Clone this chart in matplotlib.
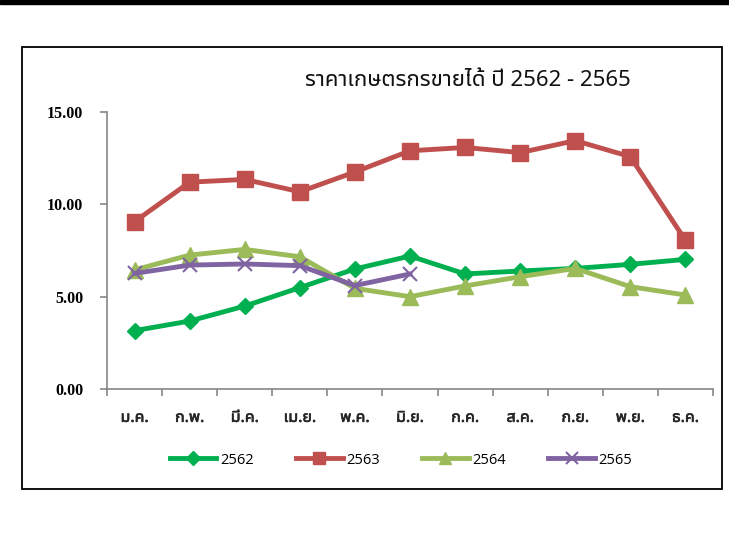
import matplotlib
matplotlib.use('Agg')
import matplotlib.pyplot as plt
import matplotlib.patheffects as pe
from matplotlib.patches import Rectangle
from matplotlib.ticker import FormatStrFormatter, FixedLocator
import numpy as np

months = ['ม.ค.', 'ก.พ.', 'มี.ค.', 'เม.ย.', 'พ.ค.', 'มิ.ย.',
          'ก.ค.', 'ส.ค.', 'ก.ย.', 'พ.ย.', 'ธ.ค.']
p2562 = [3.16, 3.68, 4.49, 5.49, 6.50, 7.20, 6.23, 6.39, 6.53, 6.75, 7.02]
p2563 = [9.06, 11.20, 11.35, 10.68, 11.75, 12.90, 13.08, 12.80, 13.45, 12.58, 8.05]
p2564 = [6.45, 7.25, 7.56, 7.16, 5.45, 5.00, 5.58, 6.08, 6.53, 5.54, 5.09]
p2565 = [6.26, 6.71, 6.77, 6.68, 5.60, 6.23]

title = 'ราคาเกษตรกรขายได้ ปี 2562 - 2565'
thai_font = ['Noto Sans Thai UI', 'Noto Sans']

W, H = 729, 540
fig = plt.figure(figsize=(W / 100, H / 100), dpi=100)

# outer frame and black strip at the top
fig.patches.append(Rectangle((22 / W, 1 - 489 / H), 700 / W, 442 / H,
                             transform=fig.transFigure, fill=False,
                             edgecolor='black', linewidth=1.3))
fig.patches.append(Rectangle((0, 1 - 4 / H), 1, 4 / H,
                             transform=fig.transFigure, color='black'))

ax = fig.add_axes([107 / W, 1 - 389 / H, 606 / W, 277 / H])
x = np.arange(len(months))

ax.plot(x, p2562, color='#00B050', lw=3.5, marker='D', ms=8.5, label='2562')
ax.plot(x, p2563, color='#C0504D', lw=3.5, marker='s', ms=11, label='2563')
ax.plot(x, p2564, color='#9BBB59', lw=3.5, marker='^', ms=11, label='2564')
ax.plot(x[:len(p2565)], p2565, color='#8064A2', lw=3.5, marker='x', ms=10,
        mew=1.5, label='2565')

ax.set_xlim(-0.5, len(months) - 0.5)
ax.set_ylim(0, 15)
ax.set_yticks([0, 5, 10, 15])
ax.yaxis.set_major_formatter(FormatStrFormatter('%.2f'))
ax.set_xticks(x)
ax.set_xticklabels(months, family=thai_font, fontsize=11.5, color='#262626')
for lab in ax.get_xticklabels():
    lab.set_path_effects([pe.withStroke(linewidth=0.45, foreground='#262626')])
ax.xaxis.set_minor_locator(FixedLocator(np.arange(-0.5, len(months), 1)))
ax.tick_params(axis='x', which='major', length=0, pad=15)
ax.tick_params(axis='x', which='minor', length=5, width=1.2, color='#868686')
ax.tick_params(axis='y', length=5, width=1.2, color='#868686', pad=12)
for lab in ax.get_yticklabels():
    lab.set_family('Liberation Serif')
    lab.set_fontweight('bold')
    lab.set_fontsize(11.5)

for side in ['top', 'right']:
    ax.spines[side].set_visible(False)
for side in ['left', 'bottom']:
    ax.spines[side].set_color('#868686')
    ax.spines[side].set_linewidth(1.2)

fig.text(468 / W, 1 - 80 / H, title, ha='center', va='center',
         family=thai_font, fontsize=16, color='#111111')

fig.legend(loc='center', bbox_to_anchor=(401 / W, 1 - 460 / H), ncol=4,
           frameon=False, prop={'family': 'Open Sans', 'size': 10.5},
           handlelength=3.2, handletextpad=0.25, columnspacing=2.9,
           markerscale=0.85)

fig.savefig('out.png', dpi=100)
